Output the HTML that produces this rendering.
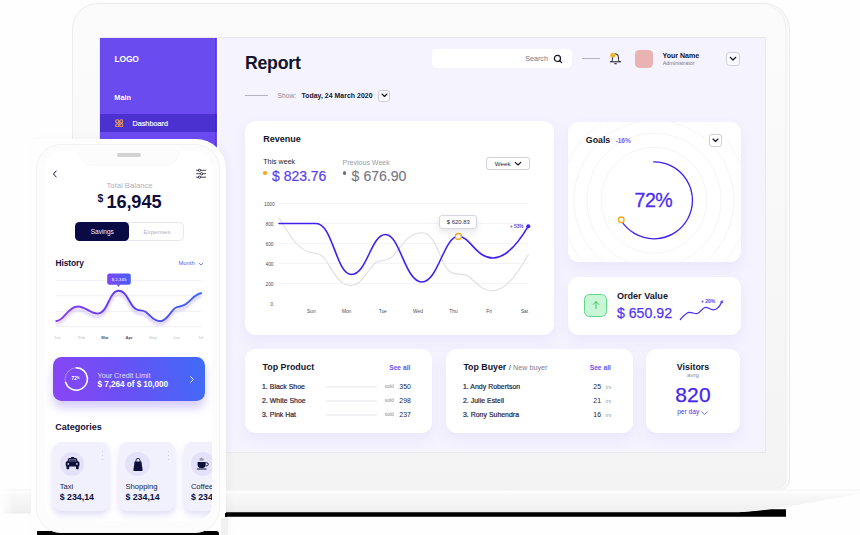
<!DOCTYPE html>
<html>
<head>
<meta charset="utf-8">
<title>Report</title>
<style>
*{box-sizing:border-box;margin:0;padding:0}
html,body{width:860px;height:535px;overflow:hidden;background:#fefefe}
body{position:relative;font-family:"Liberation Sans",sans-serif;color:#14142b}
.abs{position:absolute}
.t{position:absolute;white-space:nowrap;line-height:1}
.b{font-weight:bold}
#lid{left:72.3px;top:2.6px;width:717.7px;height:487.4px;background:linear-gradient(#fbfbfb 0%,#f9f9f9 35%,#f5f5f5 75%,#f3f3f3 100%);border:1px solid #ededed;border-radius:26px 26px 10px 10px;box-shadow:inset -2.5px 0 0 #fafafa, inset -3.5px 0 0 #efefef}
#screen{left:99px;top:37px;width:667px;height:416px;background:#f5f3fe;border:1.5px solid #e9e9ec;overflow:hidden}
#side{left:0;top:0;width:117px;height:100%;background:#6a4bf0}
#side .act{left:0;top:76px;width:117px;height:18.5px;background:#4a31d0}
.card{position:absolute;background:#fff;border-radius:11px;box-shadow:0 6px 14px rgba(120,100,220,0.085)}
.dd{position:absolute;border:1px solid #cdcdd6;border-radius:3px;background:#fbfbfe}
.pur{color:#5337ee}
.gry{color:#8a8a98}
.row{font-size:6.9px;color:#26263c;-webkit-text-stroke:0.2px #26263c;letter-spacing:0.03px}
.ln{left:326.5px;width:51px;height:1.5px;background:#f3f3f6}
.sold{left:385.3px;font-size:4.9px;color:#8a8a98}
.num{font-size:6.9px;color:#26263c}
.trs{left:606.1px;font-size:5.1px;color:#a0a0ac}
.cat{top:441.7px;width:56.4px;height:69.6px;border-radius:8.5px;background:#f1f0fd;box-shadow:0 4px 7px rgba(120,110,220,0.22)}
.cic{top:451.7px;width:24.6px;height:24.6px;border-radius:50%;background:#e3e2f8}
.dots{top:450.5px;width:1.2px;height:9.5px;background:repeating-linear-gradient(#cfcfe0 0 1.4px,transparent 1.4px 4px)}
.ct{top:482.5px;font-size:7.6px;color:#1a1a44}
.cv{top:493px;font-size:8.8px;color:#0e0e3a}
</style>
</head>
<body>
<!-- LAPTOP LID -->
<div id="lid" class="abs"></div>
<div id="screen" class="abs">
  <!-- coordinates inside #screen are page coords minus (100.5,38.5) => use wrapper -->
  <div class="abs" id="sc" style="left:-100.5px;top:-38.5px;width:860px;height:535px">
    <div id="side" class="abs" style="left:100px;top:38px;width:117px;height:415px">
      <div class="t b" style="left:15px;top:17px;font-size:8.5px;color:#fff;letter-spacing:-0.2px">LOGO</div>
      <div class="t b" style="left:14.8px;top:56px;font-size:7.3px;color:#fff">Main</div>
      <div class="abs act"></div>
      <div class="abs" style="left:115.3px;top:0;width:1.7px;height:100%;background:rgba(40,10,200,0.28)"></div>
      <div class="abs" style="left:117px;top:0;width:2px;height:100%;background:#fff"></div>
      <svg class="abs" style="left:15px;top:81.4px" width="8.6" height="8.6" viewBox="0 0 9 9"><g fill="none" stroke="#f2a15a" stroke-width="1.1"><circle cx="2.4" cy="2.4" r="1.7"/><circle cx="6.6" cy="2.4" r="1.7"/><circle cx="2.4" cy="6.6" r="1.7"/><circle cx="6.6" cy="6.6" r="1.7"/><path d="M3.4 3.4 L5.6 5.6 M5.6 3.4 L3.4 5.6"/></g></svg>
      <div class="t" style="left:32.9px;top:82.5px;font-size:7.3px;color:#f6f4ff;-webkit-text-stroke:0.2px #f6f4ff">Dashboard</div>
    </div>

    <!-- header -->
    <div class="t b" style="left:245.4px;top:55.3px;font-size:17.7px;letter-spacing:-0.2px">Report</div>
    <div class="abs" style="left:245.3px;top:95px;width:23.2px;height:1.1px;background:#b4b4c2"></div>
    <div class="t gry" style="left:278px;top:93.6px;font-size:6.7px">Show:</div>
    <div class="t b" style="left:301.9px;top:93.6px;font-size:6.9px;letter-spacing:0.05px">Today, 24 March 2020</div>
    <div class="dd" style="left:378px;top:90px;width:12.5px;height:12px"></div>
    <svg class="abs" style="left:381px;top:93.5px" width="7" height="5" viewBox="0 0 7 5"><path d="M1 1 L3.5 3.5 L6 1" fill="none" stroke="#14142b" stroke-width="1.15" stroke-linecap="round" stroke-linejoin="round"/></svg>

    <div class="abs" style="left:432.2px;top:49.4px;width:140.8px;height:19.3px;background:#fff;border-radius:4.5px"></div>
    <div class="t gry" style="left:525.7px;top:55.9px;font-size:7.2px;color:#77778a">Search</div>
    <svg class="abs" style="left:553.2px;top:54.2px" width="10.2" height="10.2" viewBox="0 0 11 11"><circle cx="4.8" cy="4.8" r="3.3" fill="none" stroke="#14142b" stroke-width="1.3"/><path d="M7.3 7.3 L9.3 9.3" stroke="#14142b" stroke-width="1.4" stroke-linecap="round"/></svg>
    <div class="abs" style="left:582px;top:58.2px;width:18.5px;height:1.2px;background:#b4b4c2"></div>
    <svg class="abs" style="left:608px;top:51px" width="15" height="15" viewBox="0 0 15 15"><path d="M2.4 10.8 H12.6 M3.7 10.6 C4.9 9.3 4.5 7.4 4.6 5.8 A2.9 2.9 0 0 1 10.4 5.8 C10.5 7.4 10.1 9.3 11.3 10.6 M6.7 12.7 H8.3" fill="none" stroke="#14142b" stroke-width="1" stroke-linecap="round" stroke-linejoin="round"/><circle cx="4.8" cy="4.3" r="2.5" fill="#f6b323"/></svg>
    <div class="abs" style="left:635.2px;top:50.1px;width:18.8px;height:18.6px;background:#e9b3b3;border-radius:4.5px"></div>
    <div class="t b" style="left:663px;top:52.5px;font-size:7.05px">Your Name</div>
    <div class="t gry" style="left:663.2px;top:61.5px;font-size:5.4px;color:#777787">Administrator</div>
    <div class="dd" style="left:726.2px;top:52.3px;width:14.6px;height:14.3px;border-radius:3.5px"></div>
    <svg class="abs" style="left:729.7px;top:56.8px" width="8" height="6" viewBox="0 0 8 6"><path d="M1.2 1.3 L4 4 L6.8 1.3" fill="none" stroke="#14142b" stroke-width="1.2" stroke-linecap="round" stroke-linejoin="round"/></svg>

    <!-- Revenue card -->
    <div class="card" style="left:245px;top:121px;width:309px;height:214.5px"></div>
    <div class="t b" style="left:263.8px;top:135.4px;font-size:9px">Revenue</div>
    <div class="t" style="left:263.7px;top:159.8px;font-size:7.1px;color:#1c1c30">This week</div>
    <div class="abs" style="left:263.9px;top:171.9px;width:3.4px;height:3.4px;border-radius:50%;background:#f6a823"></div>
    <div class="t" style="left:272.6px;top:169.9px;font-size:14px;color:#5a3df0;letter-spacing:-0.1px;word-spacing:0.3px;-webkit-text-stroke:0.2px #5a3df0">$ 823.76</div>
    <div class="t" style="left:343px;top:159.8px;font-size:7.05px;color:#9a9aa6">Previous Week</div>
    <div class="abs" style="left:343.6px;top:171.9px;width:3.3px;height:3.3px;border-radius:50%;background:#6e6e7c"></div>
    <div class="t" style="left:352px;top:169.9px;font-size:14.1px;color:#777785;letter-spacing:-0.05px;word-spacing:0.3px;-webkit-text-stroke:0.15px #777785">$ 676.90</div>
    <div class="dd" style="left:486px;top:157.2px;width:44px;height:13.6px;background:#fff;border-color:#cfcfd6"></div>
    <div class="t" style="left:495.3px;top:161.4px;font-size:6.2px;color:#2a2a3c">Week</div>
    <svg class="abs" style="left:514.6px;top:161.8px" width="8" height="6" viewBox="0 0 8 6"><path d="M1.2 1.3 L4 4 L6.8 1.3" fill="none" stroke="#14142b" stroke-width="1.15" stroke-linecap="round" stroke-linejoin="round"/></svg>
    <svg class="abs" style="left:245px;top:190px" width="309" height="140" viewBox="245 190 309 140">
      <g stroke="#f4f4f7" stroke-width="1">
        <path d="M279 203.5H529M279 223.5H529M279 243.5H529M279 263.5H529M279 283.5H529"/>
      </g>
      <g font-family="Liberation Sans, sans-serif" font-size="4.8" fill="#4a4a5a">
        <text x="264" y="205.9">1000</text><text x="265.5" y="225.9">800</text><text x="265.5" y="245.9">600</text><text x="265.5" y="265.9">400</text><text x="265.5" y="285.9">200</text><text x="270.5" y="306">0</text>
        <text x="311.3" y="313" text-anchor="middle">Sun</text><text x="346.6" y="313" text-anchor="middle">Mon</text><text x="382.7" y="313" text-anchor="middle">Tue</text><text x="418" y="313" text-anchor="middle">Wed</text><text x="453.5" y="313" text-anchor="middle">Thu</text><text x="489" y="313" text-anchor="middle">Fri</text><text x="524.5" y="313" text-anchor="middle">Sat</text>
      </g>
      <path d="M279 217.5 C290 236 298 250 311 252.5 C318 253.8 321 253 327 262 C336 276 340 285.5 351 285.5 C362 285.5 368 268 376 262.5 C381 259 388 261.5 393 256 C402 246 408 232.7 422 232.7 C436 232.7 440 262 448 270 C455 277 462 272 468 276 C476 282 482 290.8 492 290.8 C506 290.8 518 274 528.5 254" fill="none" stroke="#dedee3" stroke-width="1.1"/>
      <path d="M279 223.5 H316 C333 223.5 336 274.5 351.5 274.5 C367 274.5 371 234.5 385.5 234.5 C400 234.5 405 282 422 282 C438 282 444 236.3 458.4 236.3 C470 236.3 476 258 493 258 C507 258 519 242 528.3 226.2" fill="none" stroke="#4021f0" stroke-width="1.6" stroke-linecap="round"/>
      <circle cx="528.3" cy="226.2" r="2" fill="#4021f0"/>
      <text x="510" y="228.2" font-family="Liberation Sans, sans-serif" font-size="4.7" font-weight="bold" fill="#5a3df0">+ 53%</text>
      <circle cx="458.4" cy="236.5" r="3" fill="#fff" stroke="#f2a91e" stroke-width="1.3"/>
    </svg>
    <div class="abs" style="left:439.5px;top:215.8px;width:38px;height:14.2px;background:#fff;border:1px solid #d8d8de;border-radius:3px;box-shadow:0 3px 6px rgba(60,60,90,0.12)"></div>
    <div class="t" style="left:447.3px;top:220.5px;font-size:5.9px;color:#2a2a3c">$ 620.83</div>

    <!-- Goals card -->
    <div class="card" style="left:568px;top:122px;width:173px;height:140px;overflow:hidden">
      <svg class="abs" style="left:0;top:0" width="173" height="140" viewBox="568 122 173 140">
        <g fill="none" stroke="#f4f4f7" stroke-width="1"><circle cx="654" cy="200.3" r="53"/><circle cx="654" cy="200.3" r="67"/><circle cx="654" cy="200.3" r="80"/><circle cx="654" cy="200.3" r="94"/></g>
        <path d="M653.2 161.8 A38.5 38.5 0 1 1 621.2 220.5" fill="none" stroke="#4021f0" stroke-width="1.3"/>
        <circle cx="621.3" cy="219.8" r="2.8" fill="#fff" stroke="#f2a91e" stroke-width="1.3"/>
      </svg>
    </div>
    <div class="t b" style="left:586.3px;top:136.6px;font-size:8.8px">Goals</div>
    <div class="t b" style="left:616px;top:138.2px;font-size:6.6px;color:#7b62f5">-16%</div>
    <div class="dd" style="left:709.5px;top:134.5px;width:12.5px;height:12.5px;background:#fff"></div>
    <svg class="abs" style="left:712.2px;top:138.3px" width="7" height="5" viewBox="0 0 7 5"><path d="M1 1 L3.5 3.5 L6 1" fill="none" stroke="#14142b" stroke-width="1.15" stroke-linecap="round" stroke-linejoin="round"/></svg>
    <div class="t" style="left:635px;top:191.3px;font-size:19.6px;color:#4a2df0;letter-spacing:-0.5px;-webkit-text-stroke:0.3px #4a2df0">72%</div>

    <!-- Order Value card -->
    <div class="card" style="left:568px;top:277.5px;width:173px;height:58.3px"></div>
    <div class="abs" style="left:584px;top:294px;width:23.5px;height:23px;background:#c9f6d6;border:1px solid #63d58a;border-radius:5.5px"></div>
    <svg class="abs" style="left:591px;top:300.5px" width="10" height="10" viewBox="0 0 10 10"><path d="M5 8.6 V1.8 M2.2 4.4 L5 1.6 L7.8 4.4" fill="none" stroke="#2bb85f" stroke-width="0.85" stroke-linecap="round" stroke-linejoin="round"/></svg>
    <div class="t b" style="left:617.4px;top:292px;font-size:9.1px">Order Value</div>
    <div class="t" style="left:617.4px;top:306.3px;font-size:14.2px;color:#5236ee;-webkit-text-stroke:0.25px #5236ee">$ 650.92</div>
    <svg class="abs" style="left:676px;top:294px" width="52" height="30" viewBox="676 294 52 30">
      <path d="M680.3 319.5 C683.5 316 686 312.3 689.5 312.3 C692.5 312.3 694 313.8 697 313.6 C700.5 313.3 702 307.5 705.5 307.3 C708.5 307.1 710 309.9 713.7 309.8 C717.5 309.6 720.3 305 721.6 302.2" fill="none" stroke="#4a2df0" stroke-width="1.25" stroke-linecap="round"/>
      <path d="M720.4 301.9 L722.5 300.4 L722.7 303 Z" fill="#4a2df0" stroke="#4a2df0" stroke-width="0.5" stroke-linejoin="round"/>
      <text x="701" y="302.6" font-family="Liberation Sans, sans-serif" font-size="5" font-weight="bold" fill="#5a3df0">+ 20%</text>
    </svg>

    <!-- Top Product -->
    <div class="card" style="left:245.2px;top:349.8px;width:187px;height:84px"></div>
    <div class="t b" style="left:263px;top:363.6px;font-size:8.9px">Top Product</div>
    <div class="t b" style="left:389.7px;top:365px;font-size:6.7px;color:#6a50f5">See all</div>
    <div class="t row" style="left:262.5px;top:384.8px">1. Black Shoe</div>
    <div class="t row" style="left:262.5px;top:398.9px">2. White Shoe</div>
    <div class="t row" style="left:262.5px;top:412.8px">3. Pink Hat</div>
    <div class="abs ln" style="top:386.6px"></div><div class="abs ln" style="top:400.7px"></div><div class="abs ln" style="top:414.6px"></div>
    <div class="t sold" style="top:385.7px">sold</div><div class="t sold" style="top:399.8px">sold</div><div class="t sold" style="top:413.7px">sold</div>
    <div class="t num" style="right:448.7px;top:384.8px">350</div>
    <div class="t num" style="right:448.7px;top:398.9px">298</div>
    <div class="t num" style="right:448.7px;top:412.8px">237</div>

    <!-- Top Buyer -->
    <div class="card" style="left:446.2px;top:349.8px;width:187px;height:84px"></div>
    <div class="t b" style="left:463.9px;top:363.6px;font-size:8.8px">Top Buyer</div>
    <div class="t" style="left:509.3px;top:364.6px;font-size:7.2px;color:#7d7d8b"><span style="color:#3a3a4c;font-size:8px">/</span> New buyer</div>
    <div class="t b" style="left:590.2px;top:365px;font-size:6.7px;color:#6a50f5">See all</div>
    <div class="t row" style="left:463.5px;top:384.8px">1. Andy Robertson</div>
    <div class="t row" style="left:463.5px;top:398.9px">2. Julie Estell</div>
    <div class="t row" style="left:463.5px;top:412.8px">3. Rony Suhendra</div>
    <div class="t num" style="right:258.5px;top:384.8px">25</div>
    <div class="t num" style="right:258.5px;top:398.9px">21</div>
    <div class="t num" style="right:258.5px;top:412.8px">16</div>
    <div class="t trs" style="top:385px">trs</div><div class="t trs" style="top:399.1px">trs</div><div class="t trs" style="top:413px">trs</div>

    <!-- Visitors -->
    <div class="card" style="left:646.6px;top:349.8px;width:94px;height:84px"></div>
    <div class="t b" style="left:646.5px;width:94px;text-align:center;top:363.5px;font-size:8.9px">Visitors</div>
    <div class="t" style="left:646.5px;width:94px;text-align:center;top:372.9px;font-size:6.1px;color:#8a8a98">avrg</div>
    <div class="t" style="left:646.5px;width:94px;text-align:center;top:384.9px;font-size:21px;color:#4425f0;letter-spacing:0.2px;-webkit-text-stroke:0.25px #4425f0">820</div>
    <div class="t" style="left:677.7px;top:409.9px;font-size:6.6px;color:#5236ee">per day</div>
    <svg class="abs" style="left:701.3px;top:411.2px" width="7.2" height="4.5" viewBox="0 0 8 5"><path d="M1 1 L4 3.8 L7 1" fill="none" stroke="#5236ee" stroke-width="0.8" stroke-linecap="round" stroke-linejoin="round"/></svg>
    <!--CARDS-END-->
  </div>
</div>
<!-- LAPTOP BASE -->
<svg class="abs" style="left:0;top:480px" width="860" height="55" viewBox="0 480 860 55">
  <defs>
    <linearGradient id="bg1" x1="0" y1="0" x2="0" y2="1"><stop offset="0" stop-color="#fefefe"/><stop offset="0.13" stop-color="#fdfdfd"/><stop offset="0.2" stop-color="#f8f8f8"/><stop offset="0.6" stop-color="#f4f4f4"/><stop offset="0.9" stop-color="#f0f0f0"/><stop offset="1" stop-color="#e9e9e9"/></linearGradient>
    <linearGradient id="fadeL" x1="0" y1="0" x2="1" y2="0"><stop offset="0" stop-color="#fefefe" stop-opacity="1"/><stop offset="1" stop-color="#fefefe" stop-opacity="0"/></linearGradient>
  </defs>
  <!-- black shadow strip under base -->
  <path d="M226 512 H739 C750 511.5 760 510.5 771 509.2 H786 V516.7 H226 Z" fill="#000"/>
  <!-- base body -->
  <path d="M0 489.5 H860 V493.5 C835 498 795 506.8 739 512.3 H110 C70 512.3 40 513.5 0 513.5 Z" fill="url(#bg1)"/>
  <rect x="0" y="489.5" width="860" height="1" fill="#f0f0f0" opacity="0.7"/>
  <rect x="0" y="488" width="14" height="27" fill="url(#fadeL)"/>
</svg>
<!-- PHONE -->
<div class="abs" id="phone" style="left:31px;top:139px;width:194.6px;height:396px;background:#fefefe;border-radius:3px 30px 0 0;box-shadow:3px 0 6px rgba(90,80,160,0.05)"></div>
<div class="abs" style="left:37px;top:531.3px;width:182.4px;height:5px;background:#000;border-radius:0 3px 0 0"></div>
<div class="abs" style="left:224.5px;top:512.6px;width:2px;height:4.1px;background:#000"></div>
<div class="abs" style="left:220.7px;top:518px;width:7px;height:17px;background:#f1f1f1"></div>
<div class="abs" id="pring" style="left:36.3px;top:143.7px;width:184.1px;height:389.3px;background:#fcfcfc;border:1px solid #f2f2f2;border-radius:25px"></div>
<div class="abs" id="pscreen" style="left:44.6px;top:151.4px;width:167.4px;height:369.6px;background:#fff;border-radius:17px;overflow:hidden">
 <div class="abs" style="left:-44.6px;top:-151.4px;width:860px;height:535px">
  <!-- notch -->
  <div class="abs" style="left:79.7px;top:140px;width:98.7px;height:25.4px;background:#fcfcfc;border-radius:0 0 12px 12px;box-shadow:0 0 0 0.6px #f4f4f4"></div>
  <div class="abs" style="left:117px;top:153px;width:24px;height:3.8px;border-radius:2px;background:#d2d2d2"></div>
  <svg class="abs" style="left:51px;top:169px" width="8" height="10" viewBox="0 0 8 10"><path d="M5.2 2 L2.4 5 L5.2 8" fill="none" stroke="#14142b" stroke-width="1" stroke-linecap="round" stroke-linejoin="round"/></svg>
  <svg class="abs" style="left:195.5px;top:168px" width="12" height="12" viewBox="196.2 168 12 12"><g stroke="#14142b" stroke-width="0.8" stroke-linecap="round"><path d="M196.8 170.3H205.8M196.8 173.7H205.8M196.8 177.2H205.8"/></g><g fill="#fff" stroke="#14142b" stroke-width="0.8"><circle cx="199.7" cy="170.3" r="1.15"/><circle cx="201.8" cy="173.7" r="1.15"/><circle cx="199.7" cy="177.2" r="1.15"/></g></svg>
  <div class="t" style="left:44.5px;width:170px;text-align:center;top:182.1px;font-size:7.7px;color:#afafbf">Total Balance</div>
  <div class="t b" style="left:97.6px;top:193.8px;font-size:10.4px;color:#0e0e3a">$</div>
  <div class="t b" style="left:106.4px;top:193px;font-size:18.2px;color:#0e0e3a;letter-spacing:-0.1px">16,945</div>
  <div class="abs" style="left:75px;top:222.1px;width:109.2px;height:19px;border:1px solid #e6e6ee;border-radius:4.5px;background:#fff"></div>
  <div class="abs" style="left:75px;top:222.1px;width:54.4px;height:19px;border-radius:4.5px;background:#0a0a44"></div>
  <div class="t" style="left:75px;width:54.5px;text-align:center;top:229.1px;font-size:6.5px;color:#f0f0ff">Savings</div>
  <div class="t" style="left:129.5px;width:55px;text-align:center;top:228.5px;font-size:6.2px;color:#b4b4c0">Expenses</div>
  <div class="t b" style="left:55.6px;top:258.8px;font-size:8.4px;letter-spacing:-0.1px;color:#0e0e3a">History</div>
  <div class="t" style="left:178.5px;top:260.5px;font-size:5.8px;color:#4b66e8">Month</div>
  <svg class="abs" style="left:198.3px;top:261.9px" width="6" height="5" viewBox="0 0 6 5"><path d="M1.1 1.2 L3 3 L4.9 1.2" fill="none" stroke="#4b66e8" stroke-width="0.8" stroke-linecap="round" stroke-linejoin="round"/></svg>
  <!-- phone chart -->
  <svg class="abs" style="left:44px;top:268px" width="170" height="80" viewBox="44 268 170 80">
    <defs>
      <linearGradient id="pg" x1="56" y1="0" x2="202" y2="0" gradientUnits="userSpaceOnUse"><stop offset="0" stop-color="#8a3df5"/><stop offset="0.5" stop-color="#5a3df0"/><stop offset="1" stop-color="#3a6af5"/></linearGradient>
      <filter id="gl" x="-10%" y="-50%" width="120%" height="220%"><feGaussianBlur stdDeviation="1.6"/></filter>
    </defs>
    <path d="M56.5 280.6H201M56.5 295.8H201M56.5 311.3H201M56.5 326.7H201" stroke="#eeeef4" stroke-width="0.9"/>
    <path id="pl" d="M56.3 321 C64 321 68 306.5 77.7 306.5 C86 306.5 90 313.6 97.5 313.6 C108 313.6 109 290.8 118.5 290.8 C128 290.8 129.5 307.5 137 309.6 C141 310.7 143 310.2 145.8 312 C151.5 316 153 321.2 160.3 321.2 C168 321.2 171 308.8 177 307.2 C181 306.1 183 306.2 186 304 C192 299.6 194.5 294 201.3 293.2" fill="none" stroke="#7c4df0" stroke-width="2.2" opacity="0.35" filter="url(#gl)" transform="translate(0,3)"/>
    <path d="M56.3 321 C64 321 68 306.5 77.7 306.5 C86 306.5 90 313.6 97.5 313.6 C108 313.6 109 290.8 118.5 290.8 C128 290.8 129.5 307.5 137 309.6 C141 310.7 143 310.2 145.8 312 C151.5 316 153 321.2 160.3 321.2 C168 321.2 171 308.8 177 307.2 C181 306.1 183 306.2 186 304 C192 299.6 194.5 294 201.3 293.2" fill="none" stroke="url(#pg)" stroke-width="1.9" stroke-linecap="round"/>
    <linearGradient id="tg" x1="0" y1="0" x2="1" y2="0"><stop offset="0" stop-color="#7c46f3"/><stop offset="1" stop-color="#4b5ef5"/></linearGradient><rect x="107.2" y="273.5" width="23.6" height="11.3" rx="2.2" fill="url(#tg)"/>
    <path d="M116.8 284.5 H120.2 L118.5 287 Z" fill="#6650f4"/>
    <text x="119" y="280.9" text-anchor="middle" font-family="Liberation Sans, sans-serif" font-size="4.4" fill="#fff">$ 2,345</text>
    <g font-family="Liberation Sans, sans-serif" font-size="4.2" fill="#c0c0cc" text-anchor="middle">
      <text x="57.5" y="338.8">Jan</text><text x="81.5" y="338.8">Feb</text><text x="105" y="338.8" fill="#55556e" font-weight="bold">Mar</text><text x="129" y="338.8" fill="#55556e" font-weight="bold">Apr</text><text x="153" y="338.8">May</text><text x="176.5" y="338.8">Jun</text><text x="200.5" y="338.8">Jul</text>
    </g>
  </svg>
  <!-- credit card -->
  <div class="abs" style="left:53.1px;top:357px;width:152.4px;height:44.1px;border-radius:8.5px;background:linear-gradient(75deg,#8a45f5 0%,#6a50f5 45%,#3f6cf7 100%);box-shadow:0 7px 10px rgba(110,80,240,0.28)"></div>
  <svg class="abs" style="left:62px;top:365px" width="28" height="28" viewBox="0 0 28 28"><circle cx="14.3" cy="14" r="11.2" fill="none" stroke="#ffffff" stroke-opacity="0.35" stroke-width="1"/><path d="M14.3 2.8 A11.2 11.2 0 1 1 3.6 17.4" fill="none" stroke="#fff" stroke-width="1.6" stroke-linecap="round"/></svg>
  <div class="t b" style="left:71.5px;top:376.5px;font-size:4.8px;color:#fff">72<span style="font-size:3px;vertical-align:top">%</span></div>
  <div class="t" style="left:97.6px;top:371.5px;font-size:7.2px;color:#e4defe">Your Credit Limit</div>
  <div class="t b" style="left:97.6px;top:380.6px;font-size:8.2px;color:#fff;letter-spacing:-0.05px">$ 7,264 of $ 10,000</div>
  <svg class="abs" style="left:188px;top:374px" width="8" height="11" viewBox="0 0 8 11"><path d="M2.7 2.7 L5.3 5.5 L2.7 8.3" fill="none" stroke="#fff" stroke-width="0.9" stroke-linecap="round" stroke-linejoin="round"/></svg>
  <div class="t b" style="left:55.2px;top:423px;font-size:9px;color:#0e0e3a">Categories</div>
  <!-- category cards -->
  <div class="abs cat" style="left:52.7px"></div>
  <div class="abs cat" style="left:118.5px"></div>
  <div class="abs cat" style="left:184px"></div>
  <div class="abs cic" style="left:59.6px"></div>
  <div class="abs cic" style="left:125.4px"></div>
  <div class="abs cic" style="left:190.6px"></div>
  <!-- taxi -->
  <svg class="abs" style="left:64.6px;top:457.4px" width="15.2" height="12.6" viewBox="0 0 15.2 12.6"><g fill="#0e0e3a"><rect x="6" y="0" width="3.2" height="1.6" rx="0.4"/><path d="M4.3 1.1 H10.9 Q11.6 1.1 11.9 1.8 L13.1 5 H2.1 L3.3 1.8 Q3.6 1.1 4.3 1.1 Z"/><rect x="0.7" y="4.6" width="13.8" height="4.9" rx="1.5"/><rect x="1.5" y="8.6" width="2.7" height="3.6" rx="0.8"/><rect x="11" y="8.6" width="2.7" height="3.6" rx="0.8"/></g><path d="M4.6 2.2 H10.6 L11.4 4.3 H3.8 Z" fill="#e3e2f8"/><path d="M4.9 2.5 H10.3 L10.9 4.1 H4.3 Z" fill="#0e0e3a" opacity="0.85"/><circle cx="3.3" cy="6.9" r="0.85" fill="#e3e2f8"/><circle cx="11.9" cy="6.9" r="0.85" fill="#e3e2f8"/></svg>
  <!-- bag -->
  <svg class="abs" style="left:131.5px;top:456.5px" width="12" height="15" viewBox="0 0 12 15"><path d="M2.6 4.6 H9.4 L10.6 13 A1 1 0 0 1 9.6 14 H2.4 A1 1 0 0 1 1.4 13 Z" fill="#0e0e3a"/><path d="M4 5.5 V3.4 A2 2 0 0 1 8 3.4 V5.5" fill="none" stroke="#0e0e3a" stroke-width="0.9"/></svg>
  <!-- coffee -->
  <svg class="abs" style="left:196px;top:457px" width="14" height="14" viewBox="0 0 14 14"><path d="M1.6 5 H9.6 V8 A3.2 3.2 0 0 1 6.4 11 H4.8 A3.2 3.2 0 0 1 1.6 8 Z" fill="#0e0e3a"/><path d="M9.6 5.8 H10.8 A1.4 1.4 0 0 1 10.8 8.8 H9.4" fill="none" stroke="#0e0e3a" stroke-width="0.9"/><rect x="0.8" y="11.6" width="9.8" height="1" rx="0.5" fill="#0e0e3a"/><path d="M4.2 1.2 V3.6 M5.8 0.8 V3.6 M7 1.6 V3.6" stroke="#0e0e3a" stroke-width="0.5"/></svg>
  <div class="abs dots" style="left:102px"></div><div class="abs dots" style="left:167.8px"></div>
  <div class="t ct" style="left:59.7px">Taxi</div><div class="t ct" style="left:125.4px">Shopping</div><div class="t ct" style="left:190.9px">Coffee</div>
  <div class="t b cv" style="left:59.7px">$ 234,14</div><div class="t b cv" style="left:125.4px">$ 234,14</div><div class="t b cv" style="left:190.9px">$ 234,14</div>
 </div>
</div>
</body>
</html>
